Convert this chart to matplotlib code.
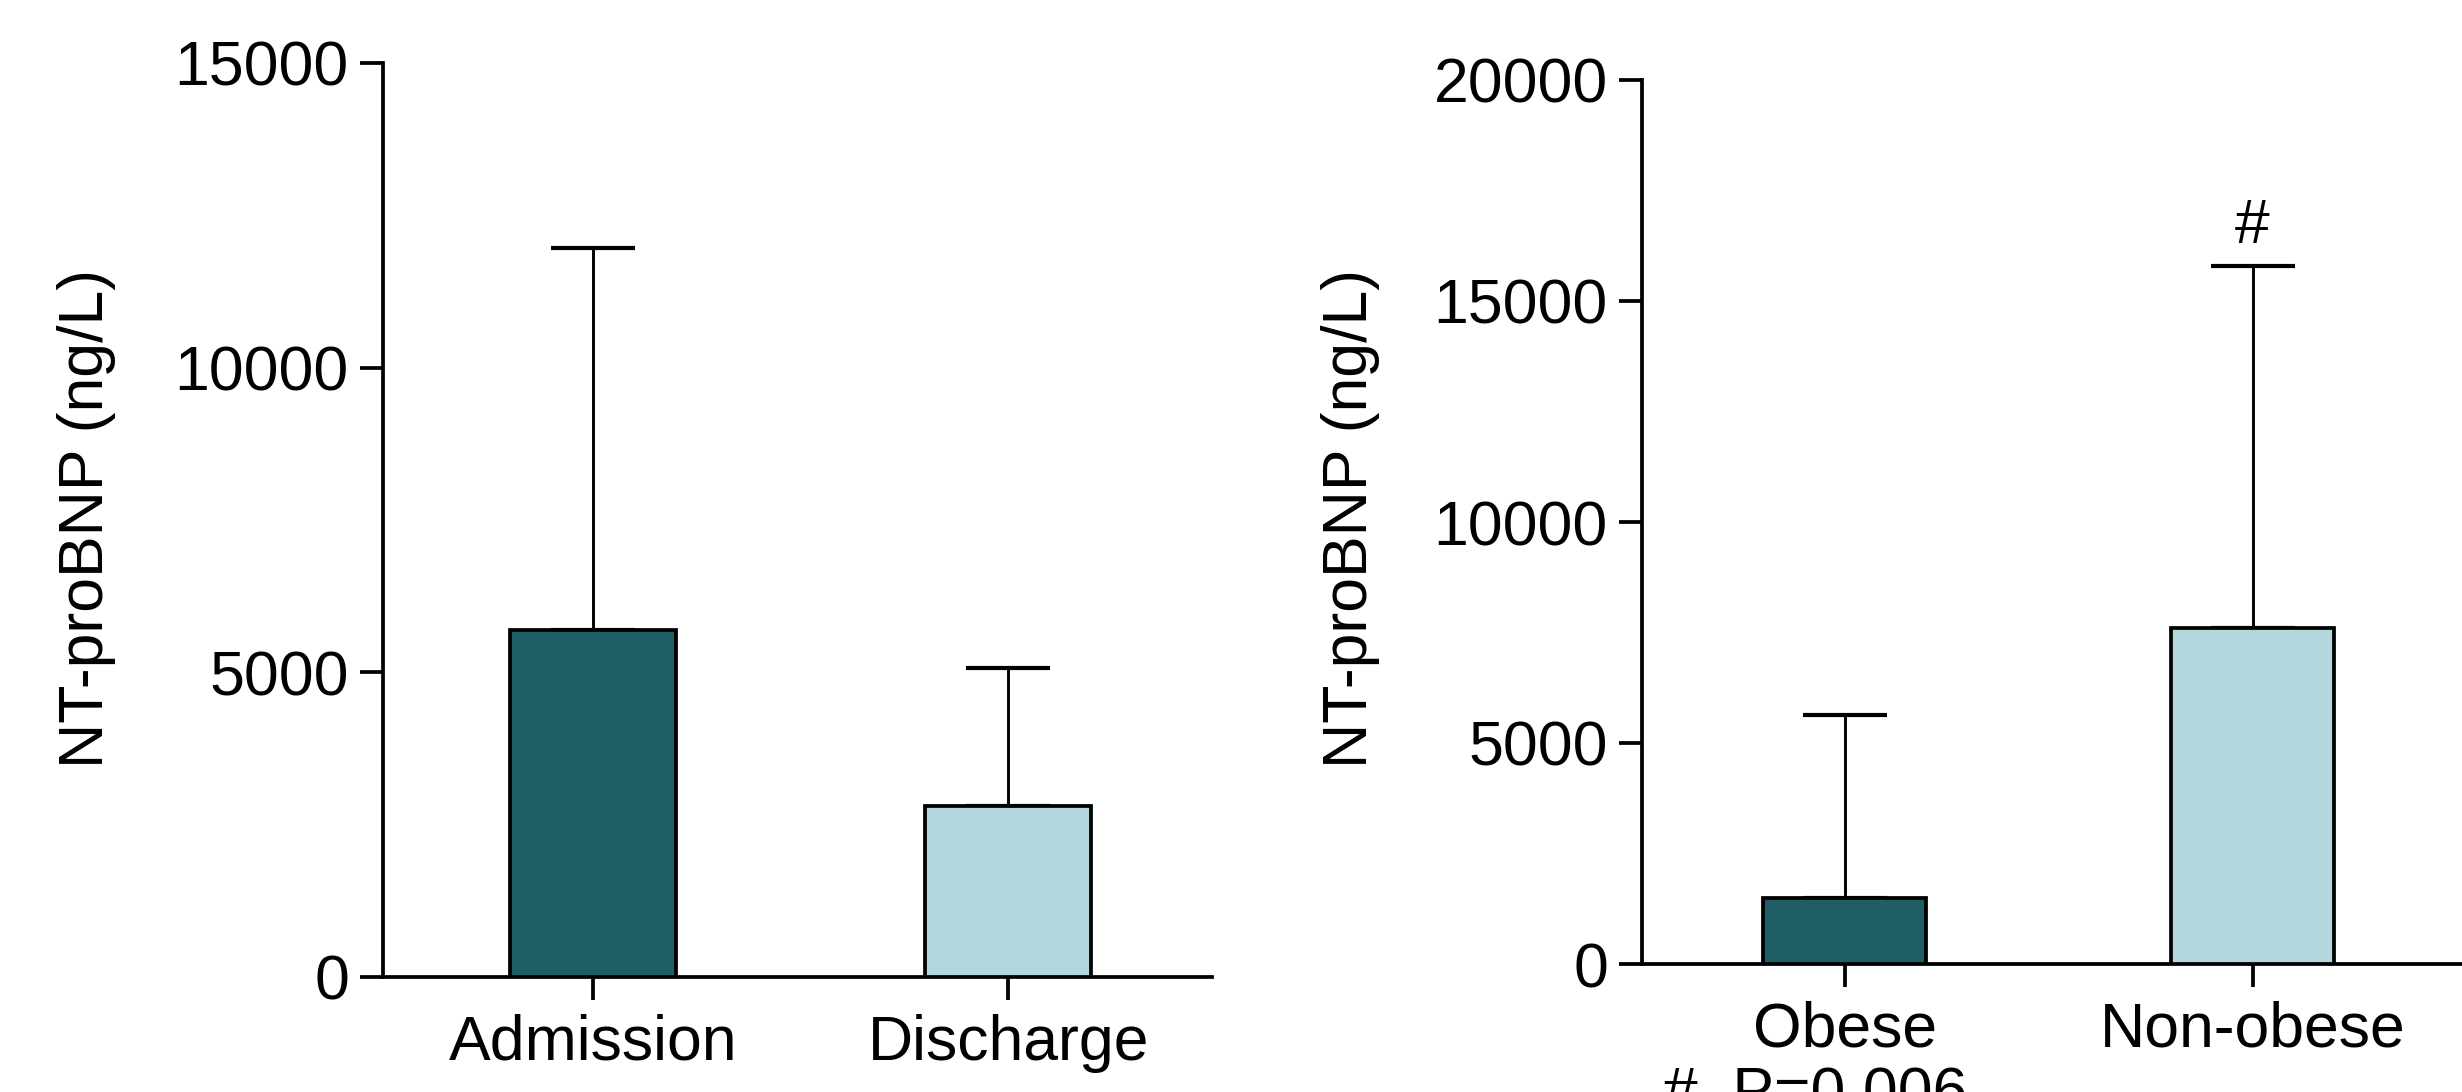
import matplotlib
matplotlib.use("Agg")
import matplotlib.pyplot as plt

plt.rcParams['font.family'] = ['Liberation Sans', 'DejaVu Sans']

# Data
left_categories = ["Admission", "Discharge"]
left_means = [5690, 2810]
left_sd_upper = [11960, 5070]

right_categories = ["Obese", "Non-obese"]
right_means = [1490, 7600]
right_sd_upper = [5630, 15800]

left_yticks = [0, 5000, 10000, 15000]
right_yticks = [0, 5000, 10000, 15000, 20000]

ylabel = "NT-proBNP (ng/L)"
dark = "#205E66"
light = "#B2D7DC"

W, H = 2462, 1092
fig = plt.figure(figsize=(W / 100, H / 100), dpi=100)

FS = 45
LW = 2.7
px = 0.72  # points per pixel


def style(ax, yticks, ylim):
    for s in ["top", "right"]:
        ax.spines[s].set_visible(False)
    for s in ["left", "bottom"]:
        ax.spines[s].set_linewidth(LW)
    ax.set_ylim(*ylim)
    ax.set_yticks(yticks)
    ax.set_yticklabels([str(t) for t in yticks])
    ax.tick_params(axis="both", direction="out", length=23 * px, width=LW,
                   labelsize=FS, pad=8)
    ax.tick_params(axis="x", pad=10)


def draw(ax, cats, means, upper, colors):
    xs = list(range(len(cats)))
    ax.bar(xs, means, width=0.4, color=colors, edgecolor="black",
           linewidth=LW, zorder=3)
    err = [[0] * len(means), [u - m for u, m in zip(upper, means)]]
    ax.errorbar(xs, means, yerr=err, fmt="none", ecolor="black",
                elinewidth=2.1, capsize=42 * px, capthick=3.0, zorder=2)
    ax.set_xticks(xs)
    ax.set_xticklabels(cats)


# Left panel
ax1 = fig.add_axes([383 / W, (H - 977) / H, (1212 - 383) / W, (977 - 63) / H])
draw(ax1, left_categories, left_means, left_sd_upper, [dark, light])
style(ax1, left_yticks, (0, 15000))
ax1.set_xlim(-0.505, 1.49)
ax1.set_ylabel(ylabel, fontsize=FS)
ax1.yaxis.set_label_coords(-0.322, 0.502)

# Right panel
ax2 = fig.add_axes([1642 / W, (H - 964) / H, (W - 1642) / W, (964 - 80) / H])
draw(ax2, right_categories, right_means, right_sd_upper, [dark, light])
style(ax2, right_yticks, (0, 20000))
ax2.set_xlim(-0.498, 1.514)
ax2.set_ylabel(ylabel, fontsize=FS)
ax2.yaxis.set_label_coords(-0.3195, 0.5045)
ax2.annotate("#", xy=(1, right_sd_upper[1]), xytext=(0, 16),
             textcoords="offset points", ha="center", va="baseline",
             fontsize=FS)

fig.text(1663 / W, (H - 1112) / H, "#  P=0.006", fontsize=FS,
         ha="left", va="baseline")

fig.savefig("out.png", dpi=100, facecolor="white")
